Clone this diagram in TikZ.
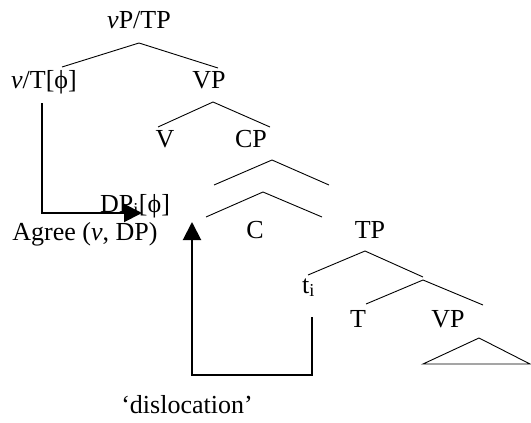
\documentclass[tikz,border=0pt]{standalone}
\usepackage{fontspec}
\setmainfont{Liberation Serif}
\usetikzlibrary{arrows.meta}
\begin{document}
\begin{tikzpicture}[x=1pt,y=-1pt,
  lab/.style={anchor=base,inner sep=0pt,font=\fontsize{26}{29}\selectfont},
  branch/.style={line width=0.9pt},
  move/.style={line width=2pt,-{Triangle[length=18pt,width=18pt]}}]
\useasboundingbox (0,0) rectangle (531,423);
% labels
\node[lab] (top) at (139,28) {\textit{v}P/TP};
\node[lab] (vt) at (44,88) {\textit{v}/T[ϕ]};
\node[lab] (vp1) at (209,88) {VP};
\node[lab] (v) at (165,147) {V};
\node[lab] (cp) at (251,147) {CP};
\node[lab,anchor=base west] (dp) at (100,212) {DP\textsubscript{i}[ϕ]};
\node[lab] (agree) at (85,240) {Agree (\textit{v}, DP)};
\node[lab] (c) at (255,238) {C};
\node[lab] (tp) at (370,238) {TP};
\node[lab,anchor=base west] (ti) at (302,293) {t\textsubscript{i}};
\node[lab] (t) at (358,327) {T};
\node[lab] (vp2) at (448,327) {VP};
\node[lab] (disl) at (187,413) {‘dislocation’};
% branch points
\coordinate (a1) at (139,43); \coordinate (l1) at (62,67); \coordinate (r1) at (218,68);
\coordinate (a2) at (213,102); \coordinate (l2) at (158,127); \coordinate (r2) at (270,127);
\coordinate (a3) at (272,160); \coordinate (l3) at (214,185); \coordinate (r3) at (329,185);
\coordinate (a4) at (263,192); \coordinate (l4) at (206,217); \coordinate (r4) at (322,217);
\coordinate (a5) at (365,251); \coordinate (l5) at (308,275); \coordinate (r5) at (423,277);
\coordinate (a6) at (423,280); \coordinate (l6) at (366,304); \coordinate (r6) at (483,305);
\coordinate (a7) at (479,338); \coordinate (l7) at (423,364); \coordinate (r7) at (530,364);
\draw[branch] (l1) -- (a1) -- (r1);
\draw[branch] (l2) -- (a2) -- (r2);
\draw[branch] (l3) -- (a3) -- (r3);
\draw[branch] (l4) -- (a4) -- (r4);
\draw[branch] (l5) -- (a5) -- (r5);
\draw[branch] (l6) -- (a6) -- (r6);
\draw[branch] (l7) -- (a7) -- (r7) -- cycle;
% arrows
\coordinate (g0) at (42,103); \coordinate (g1) at (42,213); \coordinate (g2) at (142,213);
\draw[move] (g0) -- (g1) -- (g2);
\coordinate (d0) at (312,317); \coordinate (d1) at (312,375); \coordinate (d2) at (192,375); \coordinate (d3) at (192,222);
\draw[move] (d0) -- (d1) -- (d2) -- (d3);
\end{tikzpicture}
\end{document}
